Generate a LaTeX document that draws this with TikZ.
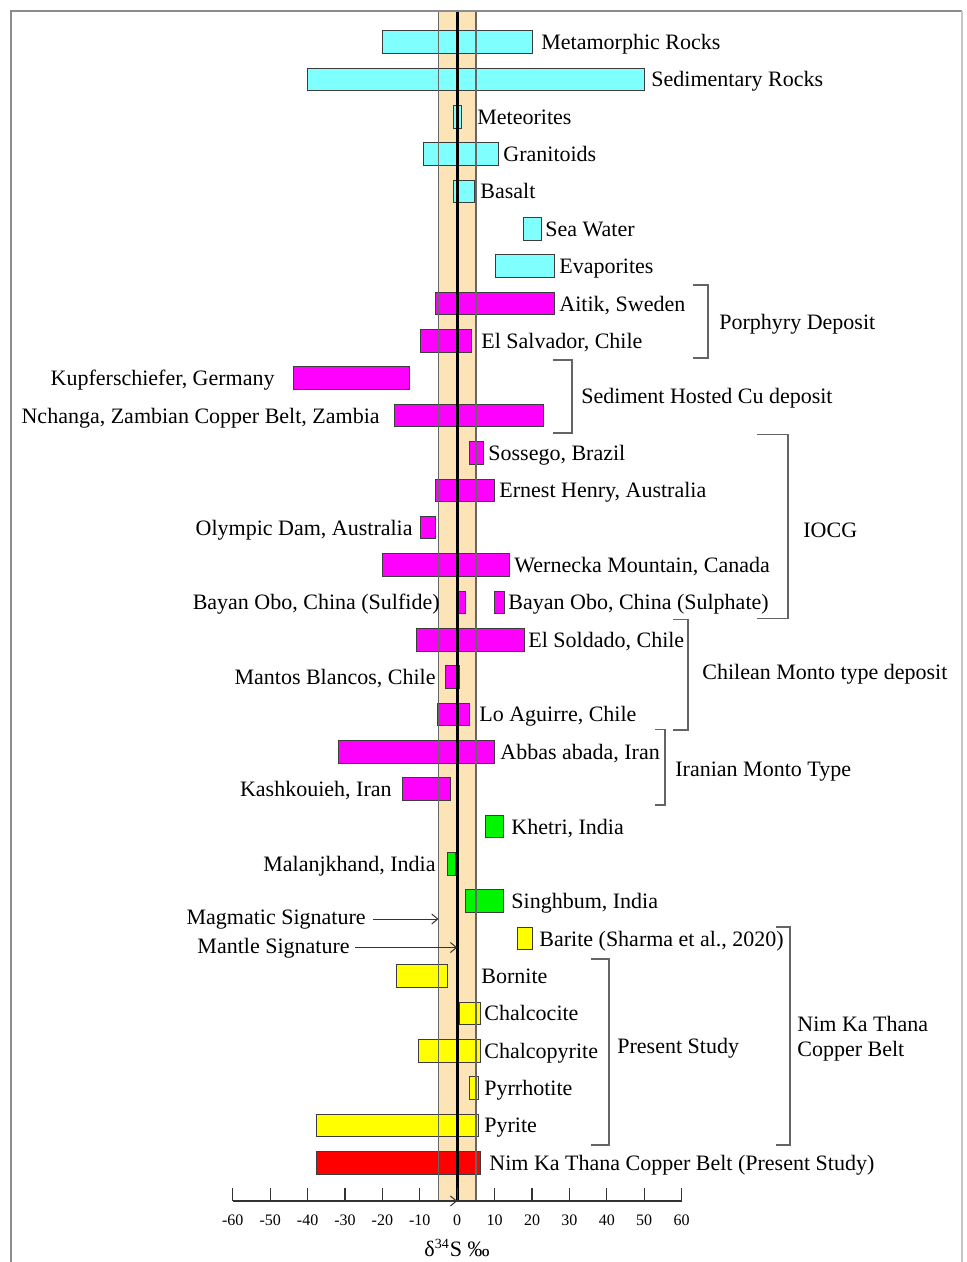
\documentclass[tikz,border=0pt]{standalone}
\usepackage{fontspec}
\setmainfont{Liberation Serif}
\usetikzlibrary{arrows.meta}
\definecolor{cyanbar}{RGB}{128,255,255}
\definecolor{magbar}{RGB}{255,0,255}
\definecolor{greenbar}{RGB}{0,245,0}
\definecolor{yelbar}{RGB}{255,255,0}
\definecolor{redbar}{RGB}{255,0,0}
\definecolor{bandfill}{RGB}{252,228,182}
\definecolor{barline}{RGB}{60,60,60}
\definecolor{framegray}{RGB}{140,140,140}
\definecolor{brackgray}{RGB}{100,100,100}
\newcommand{\Y}[1]{(42+37.36*(#1))}
\newcommand{\X}[1]{(457.2+3.74*(#1))}
\newcommand{\sbar}[4]{\filldraw[barfill=#4] ({\X{#2}},{\Y{#1}-11.3}) rectangle ({\X{#3}},{\Y{#1}+11.3});}
\tikzset{
  lab/.style={font=\fontsize{11pt}{13pt}\selectfont, inner sep=0pt, anchor=base west},
  labr/.style={font=\fontsize{11pt}{13pt}\selectfont, inner sep=0pt, anchor=base east},
  barfill/.style={fill=#1, draw=barline, line width=0.5pt},
  brack/.style={draw=brackgray, line width=0.8pt},
  ticklab/.style={font=\fontsize{8pt}{10pt}\selectfont, inner sep=0pt, anchor=base},
  sigarrow/.style={draw=black!80, line width=0.5pt, -{Straight Barb[length=3pt,width=5pt]}}
}
\begin{document}
\begin{tikzpicture}[x=0.5pt,y=-0.5pt]
\useasboundingbox (0,0) rectangle (966,1262);
% frame
\draw[framegray, line width=1.2pt] (11,1262) -- (11,11) -- (962,11);
\draw[framegray!50, line width=0.6pt] (962,11) -- (962,1262);
% band
\fill[bandfill] ({\X{-5}},12) rectangle ({\X{5}},1201);
% bars
\sbar{0}{-20}{20}{cyanbar}
\sbar{1}{-40}{50}{cyanbar}
\sbar{2}{-1}{1.2}{cyanbar}
\sbar{3}{-8.9}{11}{cyanbar}
\sbar{4}{-0.9}{4.6}{cyanbar}
\sbar{5}{17.8}{22.6}{cyanbar}
\sbar{6}{10.2}{26.1}{cyanbar}
\sbar{7}{-5.8}{26.1}{magbar}
\sbar{8}{-9.8}{3.7}{magbar}
\sbar{9}{-43.7}{-12.7}{magbar}
\sbar{10}{-16.7}{23.2}{magbar}
\sbar{11}{3.3}{7.1}{magbar}
\sbar{12}{-5.9}{9.9}{magbar}
\sbar{13}{-9.9}{-5.9}{magbar}
\sbar{14}{-20}{14.1}{magbar}
\sbar{15}{0.3}{2.1}{magbar}
\sbar{15}{10.1}{12.6}{magbar}
\sbar{16}{-11}{18.1}{magbar}
\sbar{17}{-3}{0.5}{magbar}
\sbar{18}{-5.4}{3.3}{magbar}
\sbar{19}{-31.8}{9.9}{magbar}
\sbar{20}{-14.7}{-1.8}{magbar}
\sbar{21}{7.6}{12.5}{greenbar}
\sbar{22}{-2.6}{-0.5}{greenbar}
\sbar{23}{2.1}{12.5}{greenbar}
\sbar{24}{16.2}{20.1}{yelbar}
\sbar{25}{-16.1}{-2.7}{yelbar}
\sbar{26}{0.5}{6.3}{yelbar}
\sbar{27}{-10.4}{6.1}{yelbar}
\sbar{28}{3.3}{5.8}{yelbar}
\sbar{29}{-37.6}{5.8}{yelbar}
\sbar{30}{-37.6}{6.3}{redbar}
% band edges and zero line
\draw[black!60, line width=0.6pt] ({\X{-5}},12) -- ({\X{-5}},1201);
\draw[black!60, line width=0.6pt] ({\X{5}},12) -- ({\X{5}},1201);
\draw[black, line width=1.3pt] ({\X{0}},12) -- ({\X{0}},1201);
% labels
\node[lab] (l0) at (541,{\Y{0}+7.5}) {Metamorphic Rocks};
\node[lab] (l1) at (651,{\Y{1}+7.5}) {Sedimentary Rocks};
\node[lab] (l2) at (477,{\Y{2}+7.5}) {Meteorites};
\node[lab] (l3) at (503,{\Y{3}+7.5}) {Granitoids};
\node[lab] (l4) at (480,{\Y{4}+7.5}) {Basalt};
\node[lab] (l5) at (545,{\Y{5}+7.5}) {Sea Water};
\node[lab] (l6) at (559,{\Y{6}+7.5}) {Evaporites};
\node[lab] (l7) at (559,{\Y{7}+7.5}) {Aitik, Sweden};
\node[lab] (l8) at (481,{\Y{8}+7.5}) {El Salvador, Chile};
\node[labr] (l9) at (275,{\Y{9}+7.5}) {Kupferschiefer, Germany};
\node[labr] (l10) at (380,{\Y{10}+7.5}) {Nchanga, Zambian Copper Belt, Zambia};
\node[lab] (l11) at (488,{\Y{11}+7.5}) {Sossego, Brazil};
\node[lab] (l12) at (499,{\Y{12}+7.5}) {Ernest Henry, Australia};
\node[labr] (l13) at (413,{\Y{13}+7.5}) {Olympic Dam, Australia};
\node[lab] (l14) at (514,{\Y{14}+7.5}) {Wernecka Mountain, Canada};
\node[labr] (l15a) at (440,{\Y{15}+7.5}) {Bayan Obo, China (Sulfide)};
\node[lab] (l15b) at (508,{\Y{15}+7.5}) {Bayan Obo, China (Sulphate)};
\node[lab] (l16) at (528,{\Y{16}+7.5}) {El Soldado, Chile};
\node[labr] (l17) at (436,{\Y{17}+7.5}) {Mantos Blancos, Chile};
\node[lab] (l18) at (479,{\Y{18}+7.5}) {Lo Aguirre, Chile};
\node[lab] (l19) at (500,{\Y{19}+7.5}) {Abbas abada, Iran};
\node[labr] (l20) at (392,{\Y{20}+7.5}) {Kashkouieh, Iran};
\node[lab] (l21) at (511,{\Y{21}+7.5}) {Khetri, India};
\node[labr] (l22) at (436,{\Y{22}+7.5}) {Malanjkhand, India};
\node[lab] (l23) at (511,{\Y{23}+7.5}) {Singhbum, India};
\node[lab] (l24) at (539,{\Y{24}+7.5}) {Barite (Sharma et al., 2020)};
\node[lab] (l25) at (481,{\Y{25}+7.5}) {Bornite};
\node[lab] (l26) at (484,{\Y{26}+7.5}) {Chalcocite};
\node[lab] (l27) at (484,{\Y{27}+7.5}) {Chalcopyrite};
\node[lab] (l28) at (484,{\Y{28}+7.5}) {Pyrrhotite};
\node[lab] (l29) at (484,{\Y{29}+7.5}) {Pyrite};
\node[lab] (l30) at (489,{\Y{30}+7.5}) {Nim Ka Thana Copper Belt (Present Study)};
% signatures
\node[labr] (mag) at (366,924.5) {Magmatic Signature};
\node[labr] (man) at (350,953) {Mantle Signature};
\coordinate (magend) at ({\X{-5}},919);
\coordinate (manend) at ({\X{0}},947.5);
\draw[sigarrow] (mag.east |- magend) ++(7,0) -- (magend);
\draw[sigarrow] (man.east |- manend) ++(5,0) -- (manend);
% brackets
\draw[brack] (693,285) -- (708,285) -- (708,358) -- (693,358);
\node[lab] (g1) at (719,{322+7.5}) {Porphyry Deposit};
\draw[brack] (553,360) -- (572,360) -- (572,433) -- (553,433);
\node[lab] (g2) at (581,{396+7.5}) {Sediment Hosted Cu deposit};
\draw[brack] (757,434.5) -- (788,434.5) -- (788,618.5) -- (757,618.5);
\node[lab] (g3) at (803,{530+7.5}) {IOCG};
\draw[brack] (673,619.5) -- (688,619.5) -- (688,730) -- (673,730);
\node[lab] (g4) at (702,{672+7.5}) {Chilean Monto type deposit};
\draw[brack] (655,729.5) -- (665,729.5) -- (665,805) -- (655,805);
\node[lab] (g5) at (675,{769+7.5}) {Iranian Monto Type};
\draw[brack] (591,959) -- (609,959) -- (609,1145) -- (591,1145);
\node[lab] (g6) at (617,{1046+7.5}) {Present Study};
\draw[brack] (776,927) -- (790,927) -- (790,1145) -- (776,1145);
\node[lab] (g7) at (797,{1024+7.5}) {Nim Ka Thana};
\node[lab] (g8) at (797,{1049+7.5}) {Copper Belt};
% axis
\draw[black!80, line width=0.6pt] ({\X{-60}},1201) -- ({\X{60}},1201);
\foreach \v in {-60,-50,...,60} {
  \draw[black!80, line width=0.6pt] ({\X{\v}},1188) -- ({\X{\v}},1201);
  \node[ticklab] at ({\X{\v}},1225) {\v};
}
\coordinate (axarrstart) at ({\X{-17.5}},1201);
\coordinate (axarrend) at ({\X{0}},1201);
\draw[sigarrow] (axarrstart) -- (axarrend);
\node[font=\fontsize{11pt}{13pt}\selectfont, inner sep=0pt, anchor=base] (axlab) at (457,1256) {δ\textsuperscript{\fontsize{7pt}{8pt}\selectfont 34}S ‰};
\end{tikzpicture}
\end{document}
